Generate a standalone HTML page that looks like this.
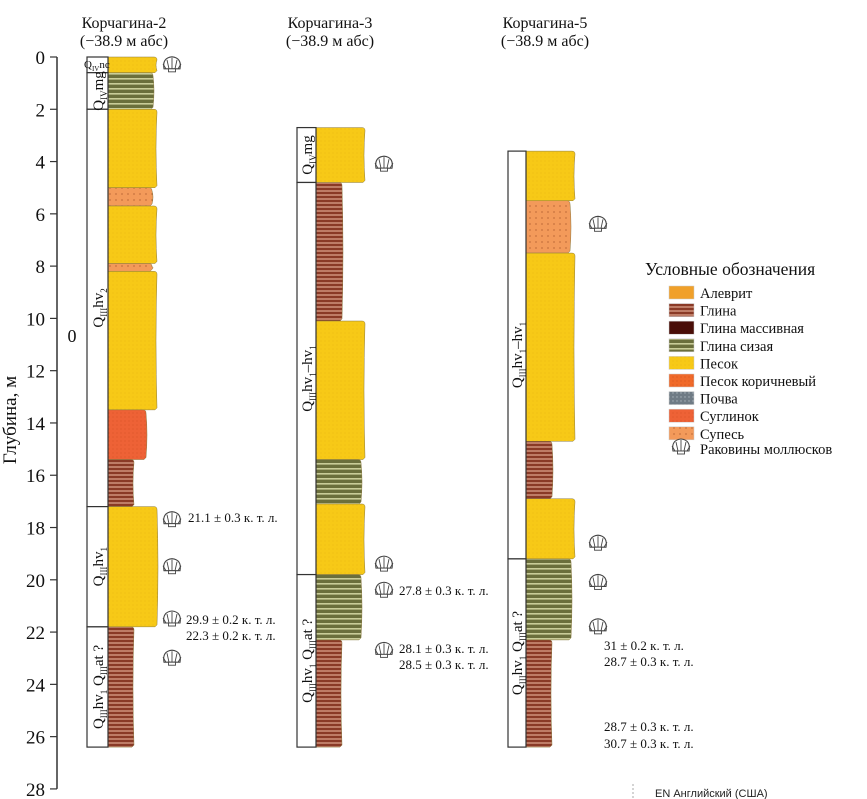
<!DOCTYPE html>
<html><head><meta charset="utf-8"><style>
html,body{margin:0;padding:0;background:#fff;}
svg{display:block;font-family:"Liberation Serif","Noto Serif CJK SC",serif;}
</style></head><body>
<svg id="chart" width="867" height="799" viewBox="0 0 867 799" xmlns="http://www.w3.org/2000/svg">
<defs>
<pattern id="p-sand" width="4" height="4" patternUnits="userSpaceOnUse"><rect width="4" height="4" fill="#f7c917"/><circle cx="1" cy="1" r="0.4" fill="#e0a80f"/></pattern>
<pattern id="p-clay" width="4" height="4" patternUnits="userSpaceOnUse"><rect width="4" height="4" fill="#8a3a26"/><rect y="2.4" width="4" height="1.2" fill="#e0a890"/></pattern>
<pattern id="p-grey" width="5" height="5" patternUnits="userSpaceOnUse"><rect width="5" height="5" fill="#6b6f3c"/><rect y="3" width="5" height="1.6" fill="#c9cc98"/></pattern>
<pattern id="p-supes" width="6" height="6" patternUnits="userSpaceOnUse"><rect width="6" height="6" fill="#f39a5a"/><circle cx="2" cy="2" r="0.6" fill="#9a4a22"/></pattern>
<pattern id="p-sugl" width="4" height="4" patternUnits="userSpaceOnUse"><rect width="4" height="4" fill="#ee6236"/><circle cx="1" cy="1" r="0.5" fill="#d04a22"/></pattern>
<pattern id="p-alev" width="4" height="4" patternUnits="userSpaceOnUse"><rect width="4" height="4" fill="#f0a02a"/></pattern>
<pattern id="p-massive" width="4" height="4" patternUnits="userSpaceOnUse"><rect width="4" height="4" fill="#4a0e08"/></pattern>
<pattern id="p-brsand" width="4" height="4" patternUnits="userSpaceOnUse"><rect width="4" height="4" fill="#f06a2a"/><circle cx="1" cy="1" r="0.5" fill="#c84c1a"/></pattern>
<pattern id="p-soil" width="4" height="4" patternUnits="userSpaceOnUse"><rect width="4" height="4" fill="#6f7b85"/><circle cx="1" cy="1" r="0.7" fill="#a9b3bb"/></pattern>
<g id="shell"><path d="M-8,4 Q-10,-7 0,-8 Q10,-7 8,4 Z" fill="#fff" stroke="#444" stroke-width="1.1"/><path d="M0,4 L0,-7 M-3,4 L-5,-5 M3,4 L5,-5 M-6,4 L-9,-1 M6,4 L9,-1" stroke="#444" stroke-width="0.9"/><rect x="-3.5" y="4" width="7" height="3" fill="#fff" stroke="#444" stroke-width="0.9"/></g>
</defs>
<g id="layer-root"></g>
</svg>
<script>
// depth axis
const depthTicks=[0,2,4,6,8,10,12,14,16,18,20,22,24,26,28];
// columns: layer tops, bottoms, types
const c1Top=[0,0.6,2.0,5.0,5.7,7.9,8.2,13.5,15.4,17.2,21.8];
const c1Bot=[0.6,2.0,5.0,5.7,7.9,8.2,13.5,15.4,17.2,21.8,26.4];
const c1Type=["sand","grey","sand","supes","sand","supes","sand","sugl","clay","sand","clay"];
const c2Top=[2.7,4.8,10.1,15.4,17.1,19.8,22.3];
const c2Bot=[4.8,10.1,15.4,17.1,19.8,22.3,26.4];
const c2Type=["sand","clay","sand","grey","sand","grey","clay"];
const c3Top=[3.6,5.5,7.5,14.7,16.9,19.2,22.3];
const c3Bot=[5.5,7.5,14.7,16.9,19.2,22.3,26.4];
const c3Type=["sand","supes","sand","clay","sand","grey","clay"];
// age boxes
const c1BoxTop=[0,0.6,2.0,17.2,21.8], c1BoxBot=[0.6,2.0,17.2,21.8,26.4];
const c2BoxTop=[2.7,4.8,19.8], c2BoxBot=[4.8,19.8,26.4];
const c3BoxTop=[3.6,19.2], c3BoxBot=[19.2,26.4];
// shells (depth)
const c1Shells=[0.3,17.7,19.5,21.5,23.0];
const c2Shells=[4.1,19.4,20.4,22.7];
const c3Shells=[6.4,18.6,20.1,21.8];
const legendLabels=["Алеврит","Глина","Глина массивная","Глина сизая","Песок","Песок коричневый","Почва","Суглинок","Супесь"];

const NS="http://www.w3.org/2000/svg";
const root=document.getElementById('layer-root');
const y0=57, pxm=26.14;
function Y(d){return y0+d*pxm;}
function mk(tag,attrs,parent){const e=document.createElementNS(NS,tag);for(const k in attrs)e.setAttribute(k,attrs[k]);(parent||root).appendChild(e);return e;}
function txt(x,y,s,size,anchor,parent){const t=mk('text',{x:x,y:y,'font-size':size,'text-anchor':anchor||'start',fill:'#111'},parent);t.textContent=s;return t;}
const widthByType={sand:49,grey:45,supes:44,sugl:38,clay:26};
const fillByType={sand:"url(#p-sand)",grey:"url(#p-grey)",supes:"url(#p-supes)",sugl:"url(#p-sugl)",clay:"url(#p-clay)"};

// axis
const ax=mk('g',{});


mk('line',{x1:57,y1:Y(0),x2:57,y2:Y(28),stroke:'#333','stroke-width':1.5},ax);
depthTicks.forEach(d=>{
  mk('line',{x1:50,y1:Y(d),x2:57,y2:Y(d),stroke:'#333','stroke-width':1.2},ax);
  const t=txt(45,Y(d)+7,String(d),19,'end',ax);
  
  
});
const yt=txt(0,0,'Глубина, м',19,'middle',ax);
yt.setAttribute('transform','translate(16,420) rotate(-90)');


const z=txt(72,342,'0',18,'middle',ax);



function wavy(x,wr,t,b,seed){
  const r=x+wr, ym=(Y(t)+Y(b))/2, bulge=(seed%2?2:-2);
  return `M${x},${Y(t)} L${r-3},${Y(t)} Q${r},${Y(t)} ${r},${Y(t)+3} Q${r+bulge},${ym} ${r},${Y(b)-2} L${r-2},${Y(b)} L${x},${Y(b)} Z`;
}
function column(name,x,tops,bots,types,boxL,boxTops,boxBots,shellX,shells,title,tx){
  const g=mk('g',{});
  
  
  const t1=txt(tx,28,title,16,'middle',g);
  
  
  const t2=txt(tx,46,'(−38.9 м абс)',16,'middle',g);
  
  
  tops.forEach((t,i)=>{
    const p=mk('path',{d:wavy(x,widthByType[types[i]],t,bots[i],i),fill:fillByType[types[i]],stroke:'#8a7a40','stroke-width':0.5},g);
    
    
  });
  boxTops.forEach((t,i)=>{
    const r=mk('rect',{x:boxL,y:Y(t),width:x-boxL,height:Y(boxBots[i])-Y(t),fill:'#fff',stroke:'#333','stroke-width':1.2},g);
    
    
  });
  shells.forEach(d=>{
    const u=mk('use',{href:'#shell',x:shellX,y:Y(d)},g);
    
    
  });
  return g;
}
function vlabel(g,cx,cy,html){
  const t=mk('text',{transform:`translate(${cx},${cy}) rotate(-90)`,'font-size':15,'text-anchor':'middle',fill:'#111'},g);
  t.innerHTML=html;
  
  
}
const sub=s=>`<tspan font-size="9" baseline-shift="-4">${s}</tspan>`;
const g1=column('column-korchagina-2',108,c1Top,c1Bot,c1Type,87,c1BoxTop,c1BoxBot,172,c1Shells,'Корчагина-2',124);
const g2=column('column-korchagina-3',316,c2Top,c2Bot,c2Type,297,c2BoxTop,c2BoxBot,384,c2Shells,'Корчагина-3',330);
const g3=column('column-korchagina-5',526,c3Top,c3Bot,c3Type,508,c3BoxTop,c3BoxBot,598,c3Shells,'Корчагина-5',545);
const tq=mk('text',{x:84,y:Y(0)+11,'font-size':11,fill:'#111'},g1);tq.innerHTML='Q'+`<tspan font-size="7" baseline-shift="-3">IV</tspan>`+'nc';

vlabel(g1,103,Y(1.3),'Q'+sub('IV')+'mg');
vlabel(g1,103,Y(9.6),'Q'+sub('III')+'hv'+sub('2'));
vlabel(g1,103,Y(19.5),'Q'+sub('III')+'hv'+sub('1'));
vlabel(g1,103,Y(24.1),'Q'+sub('III')+'hv'+sub('1')+' Q'+sub('III')+'at ?');
vlabel(g2,312,Y(3.75),'Q'+sub('IV')+'mg');
vlabel(g2,312,Y(12.3),'Q'+sub('III')+'hv'+sub('1')+'–hv'+sub('1'));
vlabel(g2,312,Y(23.1),'Q'+sub('III')+'hv'+sub('1')+' Q'+sub('III')+'at ?');
vlabel(g3,522,Y(11.4),'Q'+sub('III')+'hv'+sub('1')+'–hv'+sub('1'));
vlabel(g3,522,Y(22.8),'Q'+sub('III')+'hv'+sub('1')+' Q'+sub('III')+'at ?');
// dates
const dates=[[188,522,'21.1 ± 0.3 к. т. л.'],[186,624,'29.9 ± 0.2 к. т. л.'],[186,640,'22.3 ± 0.2 к. т. л.'],
[399,595,'27.8 ± 0.3 к. т. л.'],[399,653,'28.1 ± 0.3 к. т. л.'],[399,669,'28.5 ± 0.3 к. т. л.'],
[604,650,'31 ± 0.2 к. т. л.'],[604,666,'28.7 ± 0.3 к. т. л.'],[604,731,'28.7 ± 0.3 к. т. л.'],[604,748,'30.7 ± 0.3 к. т. л.']];
dates.forEach(d=>{const t=txt(d[0],d[1],d[2],13,'start');});
// legend
const lg=mk('g',{});


const lt=txt(645,275,'Условные обозначения',17.5,'start',lg);

const legFills=["url(#p-alev)","url(#p-clay)","url(#p-massive)","url(#p-grey)","url(#p-sand)","url(#p-brsand)","url(#p-soil)","url(#p-sugl)","url(#p-supes)"];
legendLabels.forEach((s,i)=>{
  const y=286+i*17.6;
  const e=mk('g',{},lg);
  
  
  mk('rect',{x:669,y:y,width:25,height:13,fill:legFills[i],stroke:'#ccc','stroke-width':0.5},e);
  txt(700,y+12,s,14.5,'start',e);
});
const se=mk('g',{},lg);


mk('use',{href:'#shell',x:681,y:447},se);
txt(700,454,'Раковины моллюсков',14.5,'start',se);
const ov=mk('text',{x:655,y:797,'font-size':11,fill:'#222','font-family':'Liberation Sans, sans-serif'});
ov.textContent='EN Английский (США)';


mk('line',{x1:633,y1:784,x2:633,y2:799,stroke:'#aaa','stroke-dasharray':'2,2'});
</script>
</body></html>
